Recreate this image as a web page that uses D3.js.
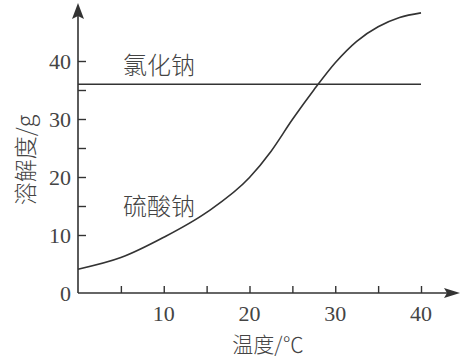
<!DOCTYPE html>
<html><head><meta charset="utf-8">
<script src="https://cdn.jsdelivr.net/npm/d3@7"></script>
<style>
html,body{margin:0;padding:0;background:#fff;}
svg{display:block;}
</style></head>
<body>
<script>
// Data
const temps = [0, 5, 10, 15, 20, 22.5, 25, 27.5, 30, 32.5, 35, 37.5, 40];
const na2so4 = [4.1, 6.1, 9.6, 13.9, 19.9, 24.4, 29.9, 35.0, 39.7, 43.4, 45.9, 47.5, 48.3];
const naclTemps = [0, 40];
const nacl = [36, 36];
const xTicks = [5, 10, 15, 20, 25, 30, 35, 40];
const yTicks = [10, 15, 20, 25, 30, 35, 40];
const xTickLabels = [10, 20, 30, 40];
const yTickLabels = [0, 10, 20, 30, 40];
const seriesNames = ["氯化钠", "硫酸钠"];
const xTitle = "温度/℃";
const yTitle = "溶解度/g";

const W = 462, H = 359;
const ink = "#333";
const textInk = "#444";
const numFont = '"Liberation Serif", "Times New Roman", serif';
const cjkFont = '"Noto Sans CJK SC"';
const svg = d3.select("body").append("svg").attr("width", W).attr("height", H);

const x = d3.scaleLinear().domain([0, 40]).range([78, 421]);
const y = d3.scaleLinear().domain([0, 40]).range([293, 61]);

// axes lines with arrows
svg.append("line").attr("x1", x(0)).attr("x2", 450).attr("y1", y(0)).attr("y2", y(0))
  .attr("stroke", ink).attr("stroke-width", 1.6);
svg.append("line").attr("x1", x(0)).attr("x2", x(0)).attr("y1", y(0)).attr("y2", 12)
  .attr("stroke", ink).attr("stroke-width", 1.6);
svg.append("path").attr("d", `M460,${y(0)} L444,${y(0)-5} L447,${y(0)} L444,${y(0)+5} Z`).attr("fill", ink);
svg.append("path").attr("d", `M${x(0)},3 L${x(0)-6},19 L${x(0)},16 L${x(0)+6},19 Z`).attr("fill", ink);

// x ticks (inward)
const xAxis = d3.axisBottom(x).tickValues(xTicks).tickSizeInner(-7).tickSizeOuter(0)
  .tickFormat(() => "");
const gx = svg.append("g").attr("transform", `translate(0,${y(0)})`).call(xAxis);
gx.select(".domain").remove();
gx.selectAll("line").attr("stroke", ink).attr("stroke-width", 1.4);

const yAxis = d3.axisLeft(y).tickValues(yTicks).tickSizeInner(-8).tickSizeOuter(0)
  .tickFormat(() => "");
const gy = svg.append("g").attr("transform", `translate(${x(0)},0)`).call(yAxis);
gy.select(".domain").remove();
gy.selectAll("line").attr("stroke", ink).attr("stroke-width", 1.4);

// tick labels
svg.append("g").selectAll("text").data(xTickLabels).join("text")
  .style("font-family", numFont).style("font-size", "22px")
  .attr("x", d => x(d)).attr("y", 321)
  .attr("text-anchor", "middle")
  .attr("fill", textInk).text(d => d);
svg.append("g").selectAll("text").data(yTickLabels).join("text")
  .style("font-family", numFont).style("font-size", "22px")
  .attr("x", 71).attr("y", d => y(d) + 8)
  .attr("text-anchor", "end")
  .attr("fill", textInk).text(d => d);

// series
const line = d3.line().x(d => x(d[0])).y(d => y(d[1])).curve(d3.curveMonotoneX);
svg.append("path").datum(naclTemps.map((t, i) => [t, nacl[i]]))
  .attr("d", line).attr("fill", "none").attr("stroke", ink).attr("stroke-width", 1.6);
svg.append("path").datum(temps.map((t, i) => [t, na2so4[i]]))
  .attr("d", line).attr("fill", "none").attr("stroke", ink).attr("stroke-width", 1.6);

svg.append("text").style("font-family", cjkFont).style("font-size", "24px").style("font-weight", 300)
  .attr("x", 123).attr("y", 74).attr("fill", textInk).text(seriesNames[0]);
svg.append("text").style("font-family", cjkFont).style("font-size", "24px").style("font-weight", 300)
  .attr("x", 123).attr("y", 215).attr("fill", textInk).text(seriesNames[1]);

// titles
svg.append("text").style("font-family", cjkFont).style("font-size", "21px").style("font-weight", 300)
  .attr("x", 268).attr("y", 352).attr("text-anchor", "middle")
  .attr("fill", textInk).text(xTitle);
svg.append("text").style("font-family", cjkFont).style("font-size", "23px").style("font-weight", 300)
  .attr("transform", "translate(34,160) rotate(-90)").attr("text-anchor", "middle")
  .attr("fill", textInk).text(yTitle);
</script>
</body></html>
